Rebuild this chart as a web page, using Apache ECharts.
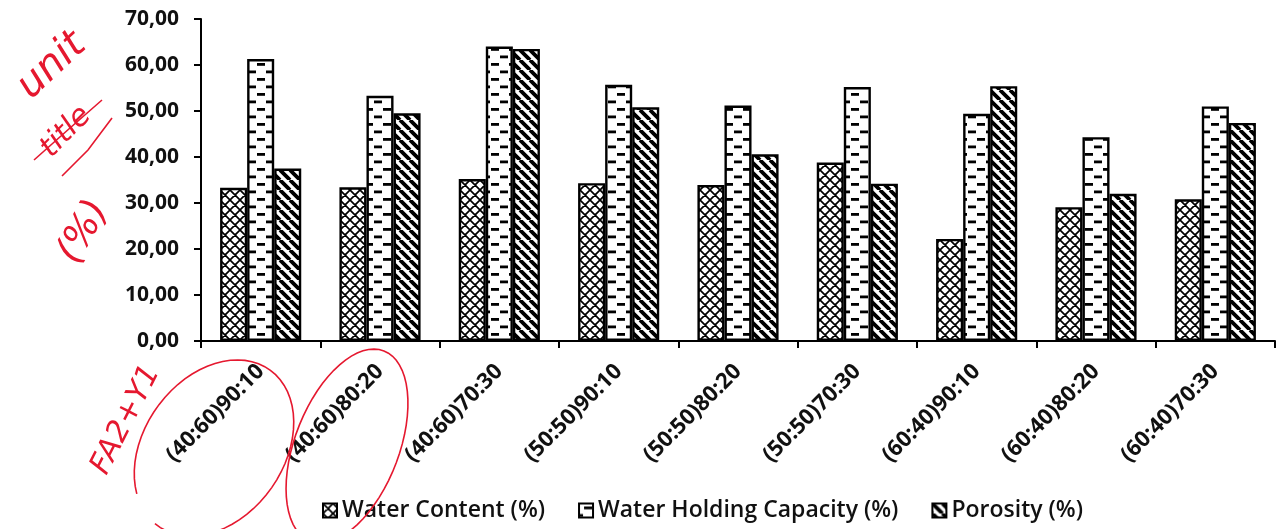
<!DOCTYPE html>
<html>
<head>
<meta charset="utf-8">
<script src="https://cdn.jsdelivr.net/npm/echarts@6/dist/echarts.min.js"></script>
<style>
  html, body { margin: 0; padding: 0; background: #fff; }
  #chart { width: 1279px; height: 529px; }
</style>
</head>
<body>
<div id="chart"></div>
<script>
// Mixture ratios tested
const categories = [
  '(40:60)90:10', '(40:60)80:20', '(40:60)70:30',
  '(50:50)90:10', '(50:50)80:20', '(50:50)70:30',
  '(60:40)90:10', '(60:40)80:20', '(60:40)70:30'
];
// Measured values (%)
const waterContent = [33.3, 33.4, 35.2, 34.3, 33.9, 38.8, 22.2, 29.1, 30.8];
const waterHolding = [61.3, 53.3, 64.0, 55.7, 51.2, 55.2, 49.4, 44.3, 51.0];
const porosity     = [37.5, 49.5, 63.5, 50.8, 40.6, 34.2, 55.4, 32.0, 47.4];
const seriesNames  = ['Water Content (%)', 'Water Holding Capacity (%)', 'Porosity (%)'];

// Monochrome fill patterns
function tile(w, h, draw) {
  const c = document.createElement('canvas');
  c.width = w; c.height = h;
  const g = c.getContext('2d');
  g.fillStyle = '#fff';
  g.fillRect(0, 0, w, h);
  draw(g, w, h);
  return { image: c, repeat: 'repeat' };
}
const crossHatch = tile(10, 10, (g, w, h) => {
  g.strokeStyle = '#000';
  g.lineWidth = 1.7;
  g.beginPath();
  for (const o of [-w, 0, w]) {
    g.moveTo(o, 0); g.lineTo(o + w, h);
    g.moveTo(o + w, 0); g.lineTo(o, h);
  }
  g.stroke();
});
const dashes = tile(18, 15, (g) => {
  g.fillStyle = '#000';
  g.fillRect(5, 3, 8, 2.8);
  g.fillRect(0, 10.5, 4, 2.8);
  g.fillRect(14, 10.5, 4, 2.8);
});
const stripes = tile(10, 10, (g, w, h) => {
  g.strokeStyle = '#000';
  g.lineWidth = 3.8;
  g.beginPath();
  for (const o of [-w, 0, w]) {
    g.moveTo(o, 0); g.lineTo(o + w, h);
  }
  g.stroke();
});

const FONT = 'Open Sans';
const INK = '#111';
const RED = '#e5182f';

function barSeries(name, data, fill) {
  return {
    name, type: 'bar', data,
    barGap: '0%', barCategoryGap: '32%',
    itemStyle: { color: fill, borderColor: '#000', borderWidth: 2.4 },
    emphasis: { disabled: true }
  };
}

// Hand-drawn pen marks over the chart
function ellipsePoints(cx, cy, rx, ry, rot, a0, a1) {
  const pts = [];
  const n = 60;
  for (let i = 0; i <= n; i++) {
    const t = a0 + (a1 - a0) * i / n;
    const x = rx * Math.cos(t), y = ry * Math.sin(t);
    pts.push([cx + x * Math.cos(rot) - y * Math.sin(rot),
              cy + x * Math.sin(rot) + y * Math.cos(rot)]);
  }
  return pts;
}
const penText = (text, x, y, rot, size) => ({
  type: 'text', x, y, rotation: rot, z: 100,
  style: { text, fill: RED, font: `italic 300 ${size}px "DejaVu Sans"`, align: 'center', verticalAlign: 'middle' }
});
const penLine = (points) => ({
  type: 'polyline', z: 100, shape: { points },
  style: { stroke: RED, lineWidth: 1.6, fill: null }
});

const chart = echarts.init(document.getElementById('chart'), null, { renderer: 'canvas' });
chart.setOption({
  backgroundColor: '#fff',
  animation: false,
  textStyle: { fontFamily: FONT },
  grid: { left: 201, right: 4, top: 19, bottom: 188 },
  legend: {
    left: 317, top: 494,
    itemWidth: 14, itemHeight: 14, itemGap: 33,
    icon: 'rect',
    textStyle: { fontFamily: FONT, fontSize: 23, fontWeight: 600, color: INK },
    data: seriesNames
  },
  xAxis: {
    type: 'category',
    data: categories,
    axisLine: { lineStyle: { color: '#000', width: 2 } },
    axisTick: { show: true, length: 7, lineStyle: { color: '#000', width: 2 } },
    axisLabel: { rotate: 45, margin: 27, fontFamily: FONT, fontSize: 22, fontWeight: 700, color: INK, interval: 0 }
  },
  yAxis: {
    type: 'value',
    min: 0, max: 70, interval: 10,
    axisLine: { show: true, lineStyle: { color: '#000', width: 2 } },
    axisTick: { show: true, length: 7, lineStyle: { color: '#000', width: 2 } },
    splitLine: { show: false },
    axisLabel: {
      margin: 22, fontFamily: FONT, fontSize: 21, fontWeight: 700, color: INK,
      formatter: v => v.toFixed(2).replace('.', ',')
    }
  },
  series: [
    barSeries(seriesNames[0], waterContent, crossHatch),
    barSeries(seriesNames[1], waterHolding, dashes),
    barSeries(seriesNames[2], porosity, stripes)
  ],
  graphic: [
    penText('unit', 52, 66, 0.75, 40),
    penText('title', 66, 132, 0.8, 30),
    penLine([[34, 160], [70, 128], [102, 100]]),
    penLine([[62, 176], [88, 150], [112, 118]]),
    penText('(%)', 84, 232, 1.05, 38),
    penText('FA2+Y1', 126, 420, 1.1, 30),
    penLine(ellipsePoints(214, 448, 96, 70, -0.95, -2.6, 3.2)),
    penLine(ellipsePoints(347, 446, 102, 52, -1.2, -2.9, 2.9))
  ]
});
</script>
</body>
</html>
